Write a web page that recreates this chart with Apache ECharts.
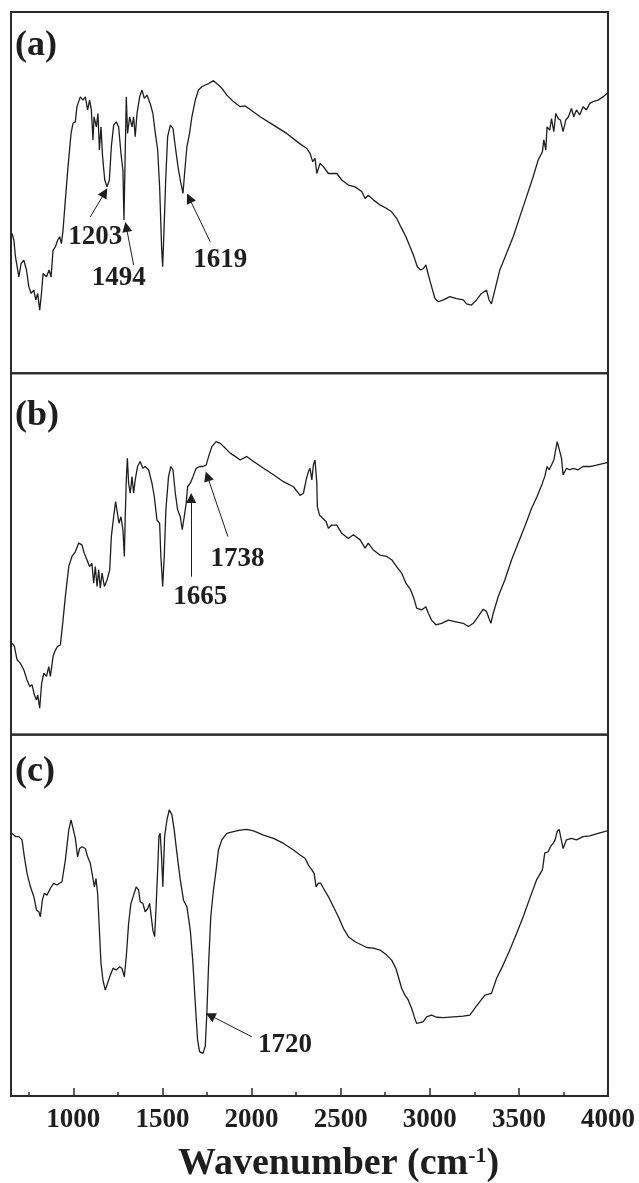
<!DOCTYPE html>
<html>
<head>
<meta charset="utf-8">
<script src="https://cdn.jsdelivr.net/npm/echarts@6/dist/echarts.min.js"></script>
<style>
html,body{margin:0;padding:0;background:#fff;}
#c{width:639px;height:1183px;}
</style>
</head>
<body>
<div id="c"></div>
<script>
// Wavenumber ticks
var majorTicks = [1000, 1500, 2000, 2500, 3000, 3500, 4000];
var minorTicks = [750, 1250, 1750, 2250, 2750, 3250, 3750];
var panelLabels = ['(a)', '(b)', '(c)'];

// Panel (a) spectrum
var wnA = [656,666,675,694,707,722,737,750,763,778,789,800,811,821,830,849,864,875,886,899,912,923,933,942,955,970,987,998,1011,1020,1039,1054,1067,1080,1091,1101,1110,1116,1129,1138,1146,1155,1164,1176,1189,1202,1213,1226,1241,1254,1267,1278,1284,1289,1297,1304,1316,1329,1338,1347,1357,1372,1385,1398,1413,1431,1446,1460,1473,1484,1495,1501,1508,1518,1529,1544,1559,1572,1587,1600,1615,1624,1637,1652,1665,1684,1702,1721,1740,1759,1786,1814,1833,1861,1898,1936,1964,1992,2048,2123,2197,2272,2310,2328,2343,2356,2366,2384,2403,2431,2478,2506,2543,2581,2618,2637,2655,2683,2721,2758,2786,2814,2842,2866,2889,2911,2930,2949,2964,2978,2992,3010,3029,3048,3076,3113,3150,3188,3206,3234,3262,3290,3318,3333,3346,3365,3393,3431,3468,3505,3543,3580,3608,3632,3640,3651,3658,3673,3683,3696,3707,3720,3733,3748,3763,3778,3795,3808,3823,3841,3860,3879,3898,3916,3944,3972,3995];
var tA = [38.7,36.9,32.3,26.7,30.4,31.3,28.6,24.0,22.1,23.0,20.3,22.1,17.5,22.1,27.6,26.7,28.6,26.7,34.1,35.0,36.9,37.8,35.9,39.6,48.0,57.2,66.4,69.2,69.6,73.8,76.5,75.6,76.5,72.9,75.6,72.9,64.6,71.0,68.2,71.9,61.8,68.2,59.9,53.5,51.6,53.5,62.7,68.7,69.6,68.2,60.9,56.2,42.4,56.2,76.5,66.4,71.0,68.2,71.0,65.5,71.9,76.5,78.4,76.1,77.0,74.7,71.9,66.4,61.8,51.6,35.0,29.5,38.7,53.5,65.5,68.7,67.8,62.7,57.2,53.5,49.8,55.3,62.7,66.4,71.0,75.6,78.4,79.3,79.8,80.2,81.0,79.8,78.9,77.0,75.2,73.8,74.0,73.0,71.0,68.7,66.4,63.5,62.2,60.9,58.6,59.5,55.3,58.1,57.2,55.3,55.3,53.5,52.1,51.6,50.3,48.4,49.3,48.0,46.6,45.6,44.7,42.9,40.1,37.8,35.0,32.3,29.5,28.6,29.0,30.0,27.2,24.0,20.7,19.8,20.3,21.2,20.7,20.3,19.2,18.9,20.3,22.1,23.0,20.3,19.2,23.0,28.6,33.2,37.8,43.3,48.9,54.4,59.0,61.3,64.6,61.8,68.2,67.3,70.5,66.9,71.9,70.5,70.1,66.9,70.1,71.0,73.3,71.0,72.9,71.5,73.8,72.9,74.7,75.2,75.6,76.5,77.5];

// Panel (b) spectrum
var wnB = [656,669,684,703,722,740,755,768,781,793,800,811,822,834,849,862,871,886,899,912,927,942,955,974,992,1011,1030,1048,1061,1076,1091,1104,1114,1123,1133,1142,1151,1161,1174,1189,1204,1213,1226,1237,1248,1256,1267,1278,1286,1291,1297,1303,1310,1319,1329,1338,1347,1360,1375,1390,1403,1422,1441,1454,1469,1484,1491,1501,1510,1519,1534,1547,1559,1572,1585,1600,1611,1622,1633,1641,1656,1671,1689,1708,1727,1745,1759,1777,1801,1824,1852,1880,1908,1936,1973,2011,2067,2123,2179,2235,2272,2291,2306,2319,2328,2338,2347,2356,2366,2369,2381,2399,2418,2431,2450,2478,2506,2543,2571,2609,2637,2655,2683,2721,2758,2786,2814,2842,2866,2892,2911,2926,2954,2978,2992,3010,3034,3066,3104,3141,3188,3216,3244,3272,3300,3318,3332,3343,3356,3384,3421,3459,3496,3533,3571,3602,3632,3645,3658,3670,3683,3696,3707,3715,3726,3739,3748,3767,3786,3804,3832,3860,3898,3935,3995];
var tB = [25.3,24.4,20.7,19.7,17.9,15.1,13.3,13.8,11.0,9.6,11.0,7.3,14.2,17.0,16.1,18.8,16.1,21.6,23.4,24.4,24.8,31.7,38.2,46.5,49.3,50.6,53.0,52.5,50.2,48.4,46.5,47.4,41.9,46.5,41.0,45.6,40.5,44.7,41.0,42.8,45.6,54.8,60.3,64.5,64.0,58.5,60.3,56.7,49.3,60.3,70.5,76.5,69.6,66.8,71.4,66.8,70.5,74.2,75.6,73.7,74.2,73.3,69.6,65.9,59.4,58.5,49.3,41.0,49.3,62.2,71.4,74.2,73.3,66.8,62.2,60.3,56.7,60.3,64.0,68.6,69.6,71.4,73.7,74.2,74.2,74.6,77.0,79.7,81.1,80.6,79.3,77.9,77.0,76.0,77.0,75.6,73.7,71.9,70.0,68.6,66.2,66.8,70.5,72.8,73.7,70.5,74.7,76.0,69.6,63.1,60.8,59.9,59.0,57.1,58.0,58.0,55.7,54.3,55.3,53.9,51.6,53.0,51.1,49.7,49.3,48.4,46.5,44.7,41.9,40.1,37.7,35.0,34.5,35.4,33.6,31.7,30.4,30.8,31.7,31.3,30.8,29.9,30.8,32.7,34.7,34.1,32.2,30.8,33.6,38.2,42.8,48.4,53.0,57.6,62.6,65.9,69.6,71.4,74.2,73.3,74.6,76.0,76.5,81.1,81.6,76.5,71.9,73.7,73.3,73.7,73.3,74.2,74.2,74.6,75.3];

// Panel (c) spectrum
var wnC = [656,675,694,712,725,740,759,778,793,806,815,826,837,852,871,890,908,936,955,974,987,998,1011,1024,1035,1048,1067,1080,1095,1108,1118,1127,1136,1146,1155,1166,1179,1189,1204,1222,1241,1260,1273,1286,1297,1310,1323,1338,1353,1366,1375,1390,1403,1417,1428,1437,1446,1456,1465,1473,1480,1487,1495,1502,1512,1525,1538,1553,1566,1581,1600,1618,1637,1656,1671,1684,1697,1708,1727,1740,1749,1759,1771,1786,1801,1814,1833,1861,1898,1936,1973,2011,2067,2123,2179,2235,2272,2300,2319,2338,2351,2362,2375,2388,2403,2431,2459,2487,2515,2543,2581,2618,2646,2683,2721,2758,2786,2810,2829,2842,2861,2879,2898,2913,2926,2945,2964,2982,3010,3038,3076,3132,3188,3225,3253,3281,3309,3346,3375,3412,3449,3487,3524,3561,3599,3632,3645,3664,3677,3692,3703,3715,3726,3737,3748,3767,3795,3823,3860,3898,3944,3995];
var tC = [72.7,71.8,71.8,70.9,66.2,61.6,57.9,55.2,51.5,51.0,49.6,54.2,56.1,55.6,57.5,58.9,58.4,59.3,65.3,73.6,76.4,75.9,71.3,66.2,68.5,69.0,68.5,66.2,64.4,60.7,57.9,60.2,56.1,45.9,36.7,32.1,29.3,28.9,33.0,35.3,34.9,35.8,35.3,33.0,38.6,47.8,53.3,55.6,57.9,57.0,53.8,53.3,51.0,51.9,53.3,49.6,45.9,44.1,53.3,62.6,71.8,72.7,66.2,57.9,71.8,76.4,79.2,77.8,73.6,67.2,59.8,54.2,52.4,45.9,36.7,25.6,15.5,12.3,11.8,13.7,22.9,36.7,49.6,57.0,62.6,68.1,70.9,72.7,73.2,73.6,73.8,73.4,72.2,71.3,69.9,68.1,66.7,65.8,63.9,62.6,61.6,57.9,58.9,58.9,57.5,55.2,52.4,49.6,46.4,44.1,42.7,41.8,41.1,40.9,40.4,39.0,37.6,35.3,32.1,29.8,27.9,26.6,24.3,21.9,20.1,20.3,20.6,21.9,22.4,21.8,21.7,21.9,22.1,22.4,24.3,26.1,27.9,28.4,32.6,36.3,40.4,45.0,49.6,54.7,59.8,62.6,67.2,67.6,69.0,69.9,70.9,73.2,73.8,73.6,68.5,70.9,71.3,70.9,71.8,72.0,72.7,73.4];

// Peak annotations: label, label position, arrow tail, arrow head (data units)
var annTextA = ['1203', '1494', '1619'];
var annAtA   = [[1123, 37.6], [1254, 26.5], [1824, 31.3]];
var annFromA = [[1095, 43.3], [1338, 30.0], [1768, 36.4]];
var annToA   = [[1176, 50.0], [1297, 40.5], [1650, 48.5]];

var annTextB = ['1665', '1738'];
var annAtB   = [[1712, 38.0], [1921, 48.6]];
var annFromB = [[1661, 43.7], [1867, 54.8]];
var annToB   = [[1661, 65.5], [1752, 71.5]];

var annTextC = ['1720'];
var annAtC   = [[2188, 14.1]];
var annFromC = [[2001, 16.4]];
var annToC   = [[1768, 22.3]];

function zip(xs, ys) { return xs.map(function (x, i) { return [x, ys[i]]; }); }

var SERIF = '"Liberation Serif", "Times New Roman", serif';
var INK = '#1e1e1e';

var gridTops = [12, 373.3, 734.7];
var grids = gridTops.map(function (t) {
  return { left: 11, right: 31, top: t, height: 361.3, show: true,
           borderColor: '#2a2a2a', borderWidth: 2, backgroundColor: 'transparent' };
});

var xAxes = [0, 1, 2].map(function (i) {
  return {
    type: 'value', gridIndex: i, min: 650, max: 4000, position: 'bottom',
    axisLine: { show: i === 2, lineStyle: { color: '#2a2a2a', width: 2 } },
    axisTick: { show: i === 2, inside: true, length: 8, customValues: majorTicks,
                lineStyle: { color: '#2a2a2a', width: 1.5 } },
    axisLabel: { show: i === 2, customValues: majorTicks, margin: 11,
                 formatter: function (v) { return String(v); },
                 fontFamily: SERIF, fontWeight: 'bold', fontSize: 27, color: INK },
    splitLine: { show: false }
  };
});
// minor ticks on the bottom axis
xAxes.push({
  type: 'value', gridIndex: 2, min: 650, max: 4000, position: 'bottom', offset: 0,
  axisLine: { show: false },
  axisTick: { show: true, inside: true, length: 4, customValues: minorTicks,
              lineStyle: { color: '#2a2a2a', width: 1.5 } },
  axisLabel: { show: false },
  splitLine: { show: false }
});

var yAxes = [0, 1, 2].map(function (i) {
  return { type: 'value', gridIndex: i, min: 0, max: 100, show: false, splitLine: { show: false } };
});

function spectrum(i, wn, t, from, to) {
  return {
    type: 'line', xAxisIndex: i, yAxisIndex: i, data: zip(wn, t),
    showSymbol: false, symbol: 'none', smooth: false,
    lineStyle: { color: INK, width: 1.3 },
    markLine: {
      silent: true, symbol: ['none', 'triangle'], symbolSize: 10,
      lineStyle: { color: INK, width: 1, type: 'solid' },
      label: { show: false },
      data: from.map(function (f, k) { return [{ coord: f }, { coord: to[k] }]; })
    }
  };
}
function labels(i, texts, at) {
  return {
    type: 'scatter', xAxisIndex: i, yAxisIndex: i, silent: true,
    symbolSize: 1, itemStyle: { color: 'rgba(0,0,0,0)', opacity: 1 },
    data: at.map(function (p, k) { return [p[0], p[1], texts[k]]; }),
    label: { show: true, position: 'inside', formatter: function (p) { return p.data[2]; },
             opacity: 1, textBorderWidth: 0,
             fontFamily: SERIF, fontWeight: 'bold', fontSize: 27, color: INK }
  };
}

var labelTops = [28, 398, 754];
var titles = panelLabels.map(function (s, i) {
  return { text: s, left: 15, top: labelTops[i], padding: 0,
           textStyle: { fontFamily: SERIF, fontWeight: 'bold', fontSize: 36, color: INK } };
});
titles.push({
  text: '{a|Wavenumber (cm}{s|-1}{a|)}', left: 178, top: 1145, padding: 0,
  textStyle: {
    rich: {
      a: { fontFamily: SERIF, fontWeight: 'bold', fontSize: 38, lineHeight: 38, color: INK },
      s: { fontFamily: SERIF, fontWeight: 'bold', fontSize: 22, lineHeight: 8, verticalAlign: 'top', color: INK }
    }
  }
});

var chart = echarts.init(document.getElementById('c'), null, { renderer: 'canvas' });
chart.setOption({
  animation: false,
  backgroundColor: '#fff',
  title: titles,
  grid: grids,
  xAxis: xAxes,
  yAxis: yAxes,
  series: [
    spectrum(0, wnA, tA, annFromA, annToA),
    spectrum(1, wnB, tB, annFromB, annToB),
    spectrum(2, wnC, tC, annFromC, annToC),
    labels(0, annTextA, annAtA),
    labels(1, annTextB, annAtB),
    labels(2, annTextC, annAtC)
  ]
});
</script>
</body>
</html>
